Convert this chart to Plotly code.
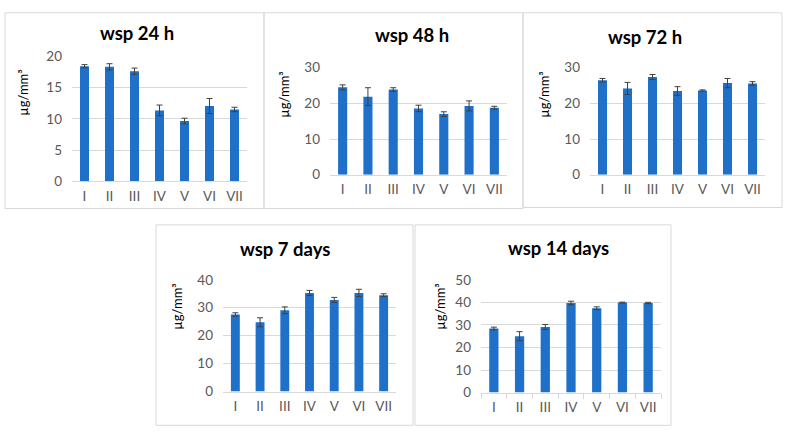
import plotly.graph_objects as go

categories = ["I", "II", "III", "IV", "V", "VI", "VII"]
titles = ["wsp 24 h", "wsp 48 h", "wsp 72 h", "wsp 7 days", "wsp 14 days"]
y_title = "µg/mm³"

values_24h = [18.4, 18.3, 17.6, 11.35, 9.65, 12.05, 11.5]
err_24h = [0.25, 0.5, 0.5, 0.85, 0.45, 1.2, 0.35]
values_48h = [24.5, 21.9, 23.9, 18.6, 17.0, 19.3, 18.8]
err_48h = [0.7, 2.5, 0.5, 0.9, 0.65, 1.4, 0.4]
values_72h = [26.5, 24.2, 27.4, 23.5, 23.6, 25.7, 25.6]
err_72h = [0.5, 1.7, 0.7, 1.2, 0.2, 1.3, 0.5]
values_7d = [27.6, 24.8, 29.1, 35.3, 32.8, 35.3, 34.5]
err_7d = [0.6, 1.6, 1.2, 0.9, 0.9, 1.3, 0.5]
values_14d = [28.4, 25.0, 29.1, 39.7, 37.4, 39.9, 39.7]
err_14d = [0.6, 2.0, 1.1, 0.8, 0.6, 0.2, 0.3]

series_values = [values_24h, values_48h, values_72h, values_7d, values_14d]
series_errors = [err_24h, err_48h, err_72h, err_7d, err_14d]
y_max = [20, 30, 30, 40, 50]
y_dtick = [5, 10, 10, 10, 10]

W, H = 788, 442
FONT = "Lato, 'Open Sans', sans-serif"
BAR = "#1f70c8"
GRID = "#d9d9d9"
TXT = "#595959"

def fx(x):
    return x / W

def fy(y):
    return 1 - y / H

# plot areas in pixels: (x0, x1, y_zero, y_top)
plot_px = [
    (72, 247, 180, 50),
    (330, 507, 173, 62),
    (590, 765, 173, 62),
    (223, 396, 398, 282),
    (481, 661, 399, 282),
]
# panel frames (x0, y0, x1, y1)
frames_px = [
    (5, 5, 264, 208),
    (264, 5, 523, 208),
    (523, 5, 782, 207),
    (156, 225, 413, 433),
    (415, 225, 671, 433),
]
title_px = [(137, 26), (412, 28), (645, 30), (285, 250), (558, 249)]
ytitle_px = [(23, 88), (284, 90), (544, 90), (177, 310), (440, 310)]

fig = go.Figure()
layout = dict(
    width=W, height=H, margin=dict(l=0, r=0, t=0, b=0),
    paper_bgcolor="white", plot_bgcolor="white", showlegend=False,
    font=dict(family=FONT, color=TXT), shapes=[], annotations=[],
)

for i in range(5):
    n = "" if i == 0 else str(i + 1)
    fig.add_trace(go.Bar(
        x=categories, y=series_values[i], width=0.36,
        marker=dict(color=BAR, line=dict(width=0)),
        error_y=dict(type="data", array=series_errors[i], visible=True,
                     color="#404040", thickness=1, width=3),
        xaxis="x" + n, yaxis="y" + n,
    ))
    x0, x1, yz, yt = plot_px[i]
    layout["xaxis" + n] = dict(
        domain=[fx(x0), fx(x1)], anchor="y" + n,
        showline=True, linecolor=GRID, linewidth=1,
        showgrid=False, tickfont=dict(size=13.5, color=TXT, family=FONT),
        ticks="outside" if i == 4 else "", tickson="boundaries" if i == 4 else None,
        ticklen=5, tickcolor=GRID, ticklabelstandoff=2, fixedrange=True,
    )
    layout["yaxis" + n] = dict(
        domain=[fy(yz), fy(yt)], anchor="x" + n,
        range=[0, y_max[i]], dtick=y_dtick[i], tick0=0,
        showgrid=True, gridcolor=GRID, gridwidth=1, zeroline=False,
        showline=False, tickfont=dict(size=13.5, color=TXT, family=FONT),
        ticklabelstandoff=9, fixedrange=True,
    )
    fx0, fy0, fx1, fy1 = frames_px[i]
    layout["shapes"].append(dict(
        type="rect", xref="paper", yref="paper",
        x0=fx(fx0), x1=fx(fx1), y0=fy(fy1), y1=fy(fy0),
        line=dict(color=GRID, width=1), fillcolor="rgba(0,0,0,0)", layer="below",
    ))
    tx, ty = title_px[i]
    layout["annotations"].append(dict(
        text="<b>" + titles[i] + "</b>", xref="paper", yref="paper",
        x=fx(tx), y=fy(ty), xanchor="center", yanchor="middle", showarrow=False,
        font=dict(size=18.5, color="black", family=FONT),
    ))
    ax, ay = ytitle_px[i]
    layout["annotations"].append(dict(
        text=y_title, xref="paper", yref="paper", textangle=-90,
        x=fx(ax), y=fy(ay), xanchor="center", yanchor="middle", showarrow=False,
        font=dict(size=13, color="black", family=FONT),
    ))

fig.update_layout(**layout)
fig.write_html("out.html")
